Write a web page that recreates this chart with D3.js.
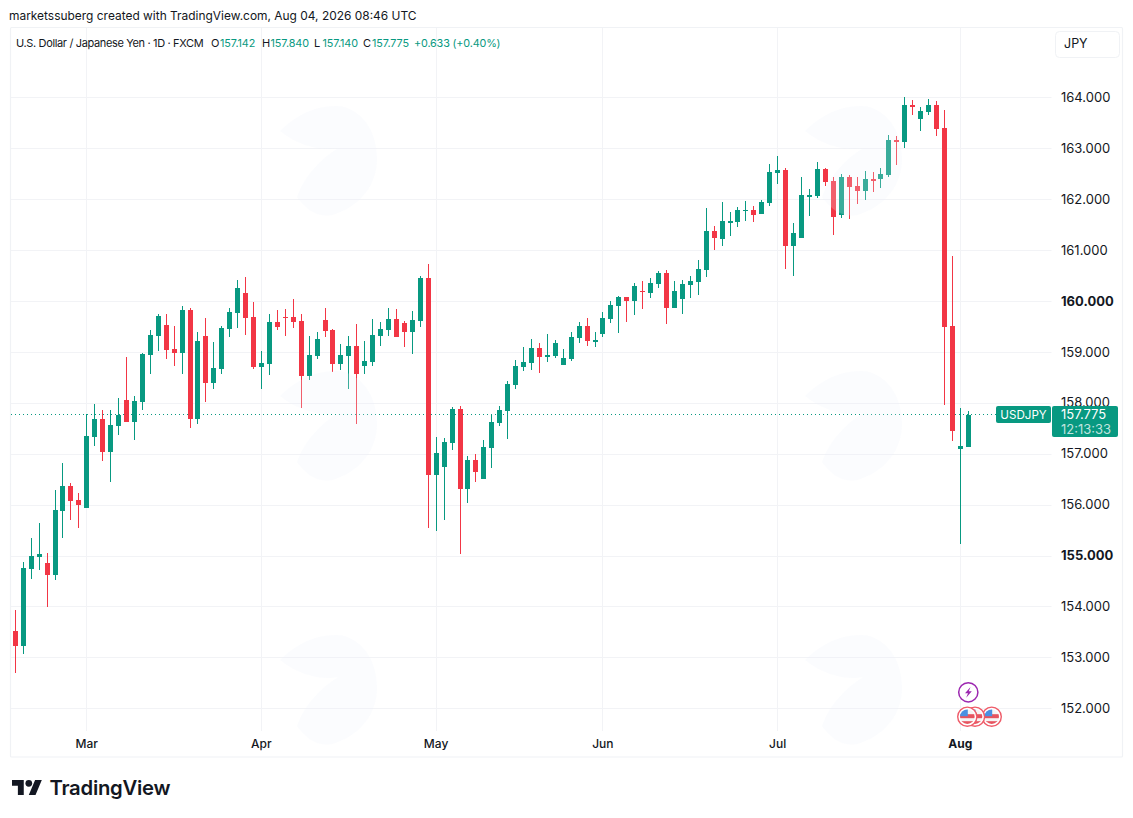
<!DOCTYPE html>
<html><head><meta charset="utf-8">
<script src="https://cdnjs.cloudflare.com/ajax/libs/d3/7.8.5/d3.min.js"></script>
<style>
html,body{margin:0;padding:0;background:#fff}
svg{display:block;font-family:Inter,"Noto Sans",sans-serif}
</style></head><body><svg id="c" width="1133" height="818"></svg>
<script>
const opens=[153.53,153.24,154.74,154.98,154.86,154.63,155.88,156.38,156.10,155.94,
157.34,157.69,157.04,157.55,158.06,157.63,158.03,158.95,159.32,159.54,
159.07,158.99,159.83,157.69,159.32,158.40,158.67,159.46,159.77,160.17,
159.70,158.71,158.77,159.60,159.70,159.70,159.62,158.54,158.93,159.64,
159.44,158.77,158.93,159.13,158.73,158.81,159.32,159.44,159.66,159.58,
159.40,159.62,160.46,156.59,156.75,157.22,157.89,156.32,156.89,156.51,
157.12,157.61,157.85,158.36,158.71,158.79,159.09,158.91,158.93,158.75,
158.87,159.28,159.52,159.22,159.36,159.66,159.91,160.09,160.01,160.21,
160.17,160.34,160.56,159.87,160.05,160.32,160.38,160.62,161.38,161.23,
161.56,161.56,161.78,161.80,161.72,161.93,162.52,162.58,161.09,161.25,
162.07,162.07,162.60,162.37,161.70,162.45,162.27,162.17,162.41,162.41,
162.49,163.17,163.13,163.86,163.59,163.72,163.86,163.41,159.52,157.10,157.142];
const highs=[153.94,154.88,155.35,155.65,155.06,156.30,156.83,156.43,156.24,157.79,
157.99,157.87,157.87,158.10,158.91,158.14,158.99,159.44,159.75,159.75,
159.52,159.91,159.87,159.40,159.68,159.20,159.52,159.87,160.42,160.48,
159.99,159.03,159.75,159.83,159.85,160.05,159.75,159.32,159.40,159.87,
159.46,159.16,159.32,159.56,159.22,159.66,159.60,159.87,159.85,159.62,
159.81,160.50,160.74,157.34,157.32,157.93,157.95,156.96,157.00,157.28,
157.79,157.95,158.44,158.85,159.11,159.26,159.18,159.36,159.24,159.07,
159.40,159.60,159.68,159.40,159.79,160.01,160.11,160.09,160.36,160.40,
160.46,160.60,160.62,160.40,160.42,160.50,160.82,161.84,161.48,161.95,
161.76,161.86,161.97,161.88,161.99,162.70,162.86,162.62,161.54,162.45,
162.21,162.74,162.62,162.45,162.50,162.49,162.45,162.56,162.54,162.62,
163.27,163.25,164.02,163.96,163.82,163.98,163.94,163.76,160.89,157.91,157.840];
const lows=[152.71,153.08,154.55,154.72,154.00,154.53,155.35,155.71,155.55,155.94,
157.16,156.87,156.45,157.38,157.63,157.28,157.87,158.58,159.03,158.87,
158.73,158.58,157.51,157.59,158.03,158.28,158.58,159.30,159.48,159.34,
158.67,158.28,158.56,159.44,159.32,159.48,157.91,158.46,158.87,159.30,
158.61,158.65,158.28,157.59,158.58,158.73,159.13,159.32,159.30,159.11,
158.97,159.50,155.55,155.49,155.71,157.08,155.04,156.04,156.45,156.51,
156.73,157.55,157.30,158.28,158.63,158.65,158.60,158.81,158.89,158.75,
158.83,159.18,159.13,159.11,159.30,159.58,159.38,159.60,159.73,159.85,
160.07,160.27,159.56,159.87,159.75,160.07,160.13,160.48,161.01,161.09,
161.29,161.46,161.58,161.56,161.72,161.88,162.31,160.64,160.50,161.25,
161.68,162.03,162.27,161.31,161.64,161.62,161.92,161.99,162.15,162.23,
162.45,162.68,163.02,163.66,163.35,163.66,163.25,157.97,157.26,155.24,157.140];
const closes=[153.24,154.76,155.00,155.04,154.63,155.90,156.38,156.08,156.00,157.36,
157.69,157.04,157.57,157.77,157.63,158.04,158.97,159.34,159.71,159.05,
158.99,159.83,157.69,159.22,158.40,158.69,159.48,159.79,160.27,159.68,
158.71,158.79,159.60,159.50,159.68,159.60,158.54,158.95,159.26,159.42,
158.77,158.95,159.13,158.58,158.83,159.34,159.46,159.66,159.30,159.40,
159.64,160.46,156.59,157.02,157.24,157.89,156.32,156.89,156.65,157.14,
157.63,157.87,158.38,158.73,158.81,159.09,158.91,158.95,159.18,158.89,
159.30,159.52,159.22,159.24,159.68,159.93,160.09,160.01,160.30,160.19,
160.36,160.56,159.87,160.21,160.34,160.40,160.64,161.38,161.25,161.58,
161.58,161.80,161.80,161.70,161.95,162.54,162.58,161.09,161.35,162.09,
162.09,162.60,162.35,161.66,162.45,162.25,162.17,162.41,162.37,162.50,
163.17,163.15,163.86,163.84,163.74,163.86,163.39,159.50,157.46,157.16,157.775];
const priceTicks=[152,153,154,155,156,157,158,159,160,161,162,163,164];
const boldPrices=[155,160];
const monthLabels=["Mar","Apr","May","Jun","Jul","Aug"];
const monthIndex=[9,31,53,74,96,119];
const lastPrice=157.775;
const UP="#089981",DOWN="#F23645",GRID="#f2f3f6",FRAME="#f0f2f5",TXT="#131722";

const svg=d3.select("#c");
const x=d3.scaleLinear().domain([0,120]).range([15.3,968.3]);
const y=d3.scaleLinear().domain([152,164]).range([708.2,97.4]);
const cx=i=>Math.round(x(i)-0.5)+0.5;

svg.append("rect").attr("width",1133).attr("height",818).attr("fill","#fff");
svg.append("rect").attr("x",10.5).attr("y",27.5).attr("width",1112).attr("height",729.5).attr("rx",1)
  .attr("fill","none").attr("stroke",FRAME).attr("stroke-width",1.2);

// grid
svg.append("g").selectAll("line").data(priceTicks).join("line")
  .attr("x1",11).attr("x2",1051.5).attr("y1",d=>Math.round(y(d))+0.5).attr("y2",d=>Math.round(y(d))+0.5)
  .attr("stroke",GRID);
svg.append("g").selectAll("line").data(monthIndex).join("line")
  .attr("x1",d=>cx(d)).attr("x2",d=>cx(d)).attr("y1",28).attr("y2",731)
  .attr("stroke",GRID);

// dotted last price line
svg.append("line").attr("x1",11).attr("x2",996).attr("y1",Math.round(y(lastPrice))+0.5).attr("y2",Math.round(y(lastPrice))+0.5)
  .attr("stroke",UP).attr("stroke-width",1).attr("stroke-dasharray","1 3");

// candles
const idx=d3.range(opens.length);
const g=svg.append("g").attr("shape-rendering","crispEdges");
g.selectAll("line").data(idx).join("line")
  .attr("x1",cx).attr("x2",cx).attr("y1",i=>y(highs[i])+0.5).attr("y2",i=>y(lows[i])+0.5)
  .attr("stroke",i=>closes[i]>=opens[i]?UP:DOWN);
g.selectAll("rect").data(idx).join("rect")
  .attr("x",i=>cx(i)-2.5).attr("width",5)
  .attr("y",i=>y(Math.max(opens[i],closes[i]))+0.5)
  .attr("height",i=>Math.max(1.5,Math.abs(y(opens[i])-y(closes[i]))))
  .attr("fill",i=>closes[i]>=opens[i]?UP:DOWN);

// watermarks
const wmPath="M0 26C14 12 34 0 58 1C80 3 97 24 97 54C97 80 80 100 58 108C44 114 30 110 17 92C24 72 38 56 58 43C42 46 20 42 0 26Z";
const wm=svg.append("g").attr("fill","#ebf2fc").attr("fill-opacity",0.22);
[[280,105],[280,370],[280,634],[805,105],[805,370],[805,634]].forEach(p=>{
  wm.append("path").attr("d",wmPath).attr("transform",`translate(${p[0]},${p[1]})`);
});

// axes
const yAxis=d3.axisRight(y).tickValues(priceTicks).tickFormat(d3.format(".3f")).tickSize(0).tickPadding(0);
const ya=svg.append("g").attr("transform","translate(1061,0)").call(yAxis);
ya.select(".domain").remove();
ya.selectAll("text").attr("font-family","Inter,sans-serif").attr("font-size",13).attr("fill",TXT)
  .attr("font-weight",d=>boldPrices.includes(d)?700:400);
const xAxis=d3.axisBottom(x).tickValues(monthIndex).tickFormat((d,i)=>monthLabels[i]).tickSize(0).tickPadding(0);
const xa=svg.append("g").attr("transform","translate(-0.6,739)").call(xAxis);
xa.select(".domain").remove();
xa.selectAll("text").attr("font-family","Inter,sans-serif").attr("font-size",12).attr("font-weight",d=>d===119?700:500).attr("fill",TXT);

// price label
const ly=Math.round(y(lastPrice));
svg.append("rect").attr("x",996).attr("y",ly-8).attr("width",55).attr("height",17).attr("rx",2).attr("fill",UP);
svg.append("text").attr("x",1023.5).attr("y",ly+5).attr("text-anchor","middle").attr("fill","#fff").attr("font-size",11.6).text("USDJPY");
svg.append("rect").attr("x",1052).attr("y",ly-8).attr("width",66).attr("height",31).attr("rx",2).attr("fill",UP);
svg.append("text").attr("x",1061).attr("y",ly+5).attr("fill","#fff").attr("font-size",13).text(d3.format(".3f")(lastPrice));
svg.append("text").attr("x",1061).attr("y",ly+19.5).attr("fill","#fff").attr("fill-opacity",0.75).attr("font-size",13).text("12:13:33");

// headers
svg.append("text").attr("x",9).attr("y",19.5).attr("font-size",11.95).attr("fill",TXT).text("marketssuberg created with TradingView.com, Aug 04, 2026 08:46 UTC");
const legend=[[16,"U.S. Dollar / Japanese Yen · 1D · FXCM",TXT,11,-0.35],[211,"O",TXT,11,0],[220,"157.142",UP,10.8,-0.1],[262,"H",TXT,11,0],[270.5,"157.840",UP,10.8,-0.1],[314,"L",TXT,11,0],[322.5,"157.140",UP,10.8,-0.1],[363,"C",TXT,11,0],[372,"157.775",UP,10.8,-0.1],[414,"+0.633 (+0.40%)",UP,10.8,-0.15]];
svg.append("g").selectAll("text").data(legend).join("text")
  .attr("x",d=>d[0]).attr("y",47).attr("font-size",d=>d[3]).attr("letter-spacing",d=>d[4]).attr("fill",d=>d[2]).text(d=>d[1]);

// currency button
svg.append("rect").attr("x",1055.5).attr("y",31.5).attr("width",64).attr("height",26).attr("rx",4).attr("fill","#fff").attr("stroke",FRAME);
svg.append("text").attr("x",1064).attr("y",48).attr("font-size",12.5).attr("fill",TXT).text("JPY");

// events
const defs=svg.append("defs");
function flag(cxx,cyy,id){
  defs.append("clipPath").attr("id",id).append("circle").attr("cx",cxx).attr("cy",cyy).attr("r",7.3);
  const f=svg.append("g");
  f.append("circle").attr("cx",cxx).attr("cy",cyy).attr("r",9.6).attr("fill","#fff").attr("stroke","#ef5b68").attr("stroke-width",1.4);
  const c=f.append("g").attr("clip-path",`url(#${id})`);
  c.append("rect").attr("x",cxx-8).attr("y",cyy-8).attr("width",16).attr("height",16).attr("fill","#f5f5f5");
  c.append("rect").attr("x",cxx-8).attr("y",cyy-2.5).attr("width",16).attr("height",4).attr("fill","#e6545f");
  c.append("rect").attr("x",cxx-8).attr("y",cyy+4.5).attr("width",16).attr("height",3.5).attr("fill","#e6545f");
  c.append("rect").attr("x",cxx-8).attr("y",cyy-8).attr("width",8.5).attr("height",7.5).attr("fill","#4a90e2");
}
flag(991.7,716.7,"f3");flag(975,716.7,"f2");flag(967.3,716.7,"f1");
svg.append("circle").attr("cx",968.3).attr("cy",692.3).attr("r",9.6).attr("fill","#fff").attr("stroke","#9c27b0").attr("stroke-width",1.5);
svg.append("path").attr("d","M970.5 687L965 693.2H968L966.2 697.7L971.8 691.2H968.8Z").attr("fill","#9c27b0");

// logo
const logo=svg.append("g").attr("transform","translate(12,776.6) scale(0.84)").attr("fill","#131722");
logo.append("path").attr("d","M14 22H7V11H0V4h14v18zM28 22h-8l7.5-18h8L28 22z");
logo.append("circle").attr("cx",20).attr("cy",8).attr("r",4);
svg.append("text").attr("x",49.5).attr("y",795).attr("font-size",20.3).attr("font-weight",600).attr("letter-spacing",-0.25).attr("fill","#131722").text("TradingView");
</script></body></html>
